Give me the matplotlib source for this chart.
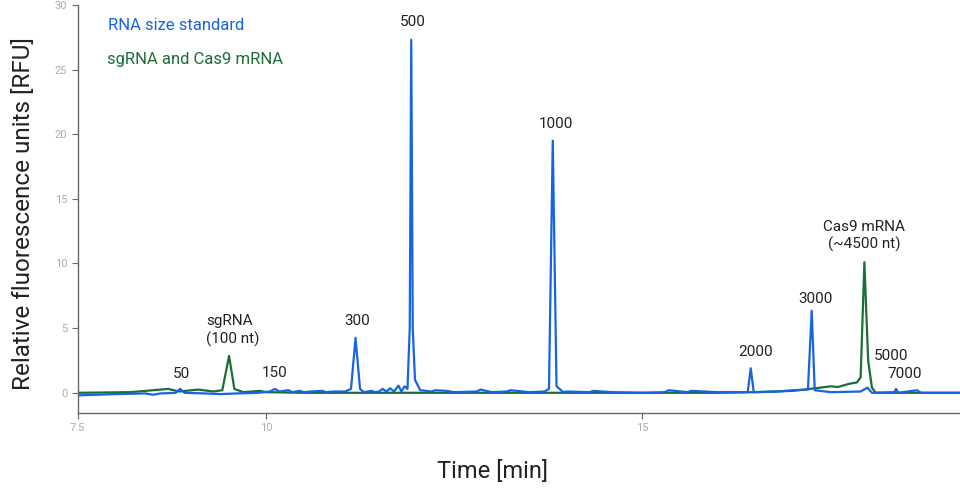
import matplotlib.pyplot as plt

plt.rcParams['font.family'] = ['Roboto', 'DejaVu Sans']

# RNA size standard trace (time in min, signal in RFU)
std_time = [7.5, 8.0, 8.4, 8.5, 8.6, 8.8, 8.86, 8.92, 9.2, 9.4, 9.6, 9.9,
            10.05, 10.12, 10.18, 10.3, 10.35, 10.45, 10.5, 10.6, 10.75, 10.8,
            10.9, 11.05, 11.13, 11.19, 11.25, 11.3, 11.4, 11.45, 11.5, 11.55,
            11.6, 11.65, 11.7, 11.76, 11.8, 11.84, 11.88, 11.91, 11.93, 11.95,
            11.98, 12.05, 12.2, 12.25, 12.4, 12.5, 12.8, 12.85, 13.0, 13.2,
            13.25, 13.5, 13.7, 13.76, 13.81, 13.86, 13.95, 14.0, 14.3, 14.35,
            14.6, 15.0, 15.3, 15.35, 15.6, 15.65, 16.0, 16.4, 16.44, 16.48,
            16.8, 17.0, 17.2, 17.25, 17.29, 17.5, 17.9, 17.99, 18.05, 18.35,
            18.37, 18.4, 18.65, 18.7, 19.22]
std_rfu = [-0.2, -0.1, -0.05, -0.15, -0.05, 0.0, 0.3, 0.0, -0.05, -0.1, -0.05, 0.0,
           0.1, 0.3, 0.1, 0.2, 0.05, 0.15, 0.05, 0.1, 0.15, 0.05,
           0.1, 0.1, 0.3, 4.25, 0.3, 0.05, 0.15, 0.05, 0.1, 0.3,
           0.1, 0.35, 0.1, 0.55, 0.1, 0.5, 0.3, 5.0, 27.3, 5.0,
           1.0, 0.2, 0.1, 0.2, 0.15, 0.05, 0.1, 0.25, 0.05, 0.1,
           0.2, 0.05, 0.1, 0.3, 19.5, 0.5, 0.05, 0.1, 0.05, 0.15,
           0.05, 0.0, 0.05, 0.2, 0.05, 0.15, 0.05, 0.05, 1.9, 0.05,
           0.1, 0.2, 0.25, 6.35, 0.2, 0.05, 0.1, 0.4, 0.0, 0.05,
           0.3, 0.0, 0.2, 0.0, 0.0]

# sgRNA and Cas9 mRNA trace
mrna_time = [7.5, 8.2, 8.5, 8.7, 8.85, 9.1, 9.3, 9.42, 9.51, 9.58, 9.7, 9.92,
             10.0, 10.5, 16.0, 16.5, 17.0, 17.3, 17.5, 17.6, 17.75, 17.85,
             17.9, 17.95, 18.0, 18.05, 18.1, 19.22]
mrna_rfu = [0.0, 0.05, 0.2, 0.3, 0.1, 0.25, 0.1, 0.2, 2.85, 0.3, 0.05, 0.15,
            0.05, 0.0, 0.0, 0.05, 0.15, 0.35, 0.5, 0.45, 0.7, 0.8,
            1.2, 10.1, 2.5, 0.4, 0.0, 0.0]

blue = '#1763e6'
green = '#1b6e34'

fig = plt.figure(figsize=(9.6, 4.88), dpi=100)
ax = fig.add_axes([0.081, 0.154, 0.919, 0.836])

ax.plot(mrna_time, mrna_rfu, color=green, lw=1.6)
ax.plot(std_time, std_rfu, color=blue, lw=1.6)

ax.set_xlim(7.5, 19.22)
ax.set_ylim(-1.55, 30)
ax.set_xticks([7.5, 10, 15])
ax.set_xticklabels(['7.5', '10', '15'])
ax.set_yticks([0, 5, 10, 15, 20, 25, 30])

for s in ['top', 'right']:
    ax.spines[s].set_visible(False)
for s in ['left', 'bottom']:
    ax.spines[s].set_color('#666666')
    ax.spines[s].set_linewidth(1.0)
ax.tick_params(colors='#666666', labelcolor='#aaaaaa', labelsize=8, length=4)

ax.set_xlabel('Time [min]', fontsize=17, color='#222222')
ax.set_ylabel('Relative fluorescence units [RFU]', fontsize=17.5, color='#222222')
ax.xaxis.set_label_coords(0.47, -0.115)
ax.yaxis.set_label_coords(-0.049, 0.488)

# legend as coloured text
ax.text(7.9, 28.4, 'RNA size standard', color=blue, fontsize=12, va='center')
ax.text(7.885, 25.74, 'sgRNA and Cas9 mRNA', color=green, fontsize=12, va='center')

# peak labels
lab = dict(fontsize=11, color='#222222', va='center', ha='center')
ax.text(8.88, 1.49, '50', **lab)
ax.text(10.12, 1.57, '150', **lab)
ax.text(11.21, 5.58, '300', **lab)
ax.text(11.95, 28.7, '500', **lab)
ax.text(13.85, 20.8, '1000', **lab)
ax.text(16.5, 3.19, '2000', **lab)
ax.text(17.3, 7.28, '3000', **lab)
ax.text(18.31, 2.88, '5000', **lab)
ax.text(18.48, 1.49, '7000', **lab)
ax.text(9.21, 4.82, 'sgRNA\n(100 nt)', fontsize=11, color='#222222',
        va='center', ha='left', linespacing=1.25)
ax.text(17.95, 12.15, 'Cas9 mRNA\n(~4500 nt)', fontsize=11, color='#222222',
        va='center', ha='center', multialignment='center', linespacing=1.25)

fig.savefig('out.png', dpi=100)
